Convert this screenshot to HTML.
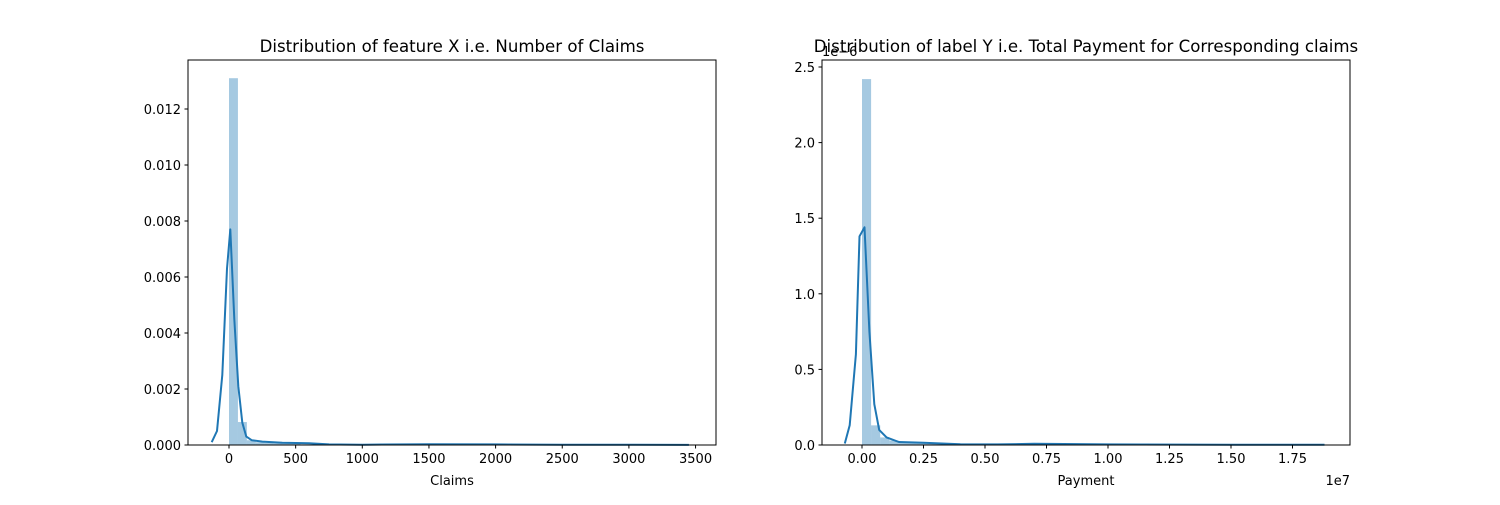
<!DOCTYPE html>
<html><head><meta charset="utf-8"><style>
body{margin:0;background:#fff;}
svg text{font-family:"DejaVu Sans","Liberation Sans",sans-serif;fill:#000;}
</style></head><body>
<svg id="fig" width="1500" height="500" viewBox="0 0 1500 500"></svg>
<script>
// ---- Left chart data (Claims) ----
const leftBinWidth = 67;
const leftBars = [0.0131,0.00082,0.00017,0.0001,0.00008,0.00006,0.00005,0.00004,0.00002,0.00001,0.00001,0.00001,0.00001,0.00001,0.00001,0.00001,0.00001,0.00001,0.00001,0.00001,0.00001,0.00002,0.00001,0.00001,0.00001,0.00001,0.00001,0.00001,0.00001,0.00001,0.00001,0.00002,0.00001,0.00001,0.00001,0.00001,0.00001,0.00001,0.00001,0.00001,0.00001,0.00001,0.00001,0.00001,0.00001,0.00001,0.00001,0.00001,0.00001,0.00001];
const leftKdeX = [-130,-90,-50,-15,10,40,70,100,130,170,250,400,600,750,1000,1500,2000,2500,3000,3450];
const leftKdeY = [0.0001,0.0005,0.0025,0.0063,0.0077,0.0045,0.0021,0.0008,0.0003,0.00017,0.00012,0.00008,0.00006,0.00002,0.00001,0.00003,0.00002,0.00001,0.000008,0.000005];
const leftXTicks = [0,500,1000,1500,2000,2500,3000,3500];
const leftYTicks = [0,0.002,0.004,0.006,0.008,0.010,0.012];
const leftYLabels = ["0.000","0.002","0.004","0.006","0.008","0.010","0.012"];
// ---- Right chart data (Payment, x in 1e7, y in 1e-6) ----
const rightBinWidth = 0.037;
const rightBars = [2.42,0.13,0.05,0.03,0.02,0.015,0.01,0.008,0.006,0.005,0.004,0.003,0.003,0.003,0.003,0.003,0.003,0.003,0.004,0.003,0.003,0.002,0.002,0.002,0.002,0.002,0.002,0.003,0.002,0.002,0.002,0.002,0.002,0.002,0.002,0.002,0.002,0.002,0.002,0.002,0.002,0.002,0.002,0.002,0.002,0.002,0.002,0.002,0.002,0.002];
const rightKdeX = [-0.07,-0.05,-0.025,-0.01,0.01,0.03,0.05,0.07,0.1,0.15,0.25,0.4,0.55,0.7,1.0,1.5,1.88];
const rightKdeY = [0.01,0.13,0.6,1.38,1.44,0.75,0.27,0.1,0.05,0.02,0.015,0.005,0.004,0.008,0.004,0.002,0.001];
const rightXTicks = [0,0.25,0.5,0.75,1.0,1.25,1.5,1.75];
const rightXLabels = ["0.00","0.25","0.50","0.75","1.00","1.25","1.50","1.75"];
const rightYTicks = [0,0.5,1.0,1.5,2.0,2.5];
const rightYLabels = ["0.0","0.5","1.0","1.5","2.0","2.5"];

const NS="http://www.w3.org/2000/svg";
const svg=document.getElementById('fig');
function el(tag,attrs,parent,txt){const e=document.createElementNS(NS,tag);for(const k in attrs)e.setAttribute(k,attrs[k]);if(txt!==undefined)e.textContent=txt;(parent||svg).appendChild(e);return e;}

function drawChart(cfg){
  const g=el('g',{});
  
  
  const {L,R,T,B}=cfg;
  const sx=v=>cfg.x0px+v*cfg.kx;
  const sy=v=>B-v*cfg.ky;
  cfg.bars.forEach((h,i)=>{
    const x=sx(i*cfg.bw);
    const r=el('rect',{x:x,y:sy(h),width:sx((i+1)*cfg.bw)-x,height:B-sy(h),fill:'#1f77b4','fill-opacity':0.4},g);
    
    
  });
  const pts=cfg.kx_.map((v,i)=>sx(v).toFixed(1)+','+sy(cfg.ky_[i]).toFixed(1)).join(' ');
  const p=el('polyline',{points:pts,fill:'none',stroke:'#1f77b4','stroke-width':2,'stroke-linejoin':'round'},g);
  
  
  const fr=el('rect',{x:L,y:T,width:R-L,height:B-T,fill:'none',stroke:'#000','stroke-width':1},g);
  
  
  cfg.xt.forEach((v,i)=>{
    const x=sx(v);
    el('line',{x1:x,x2:x,y1:B,y2:B+3.5,stroke:'#000','stroke-width':1},g);
    const t=el('text',{x:x,y:B+18,'text-anchor':'middle','font-size':13},g,cfg.xl[i]);
    
    
  });
  cfg.yt.forEach((v,i)=>{
    const y=sy(v);
    el('line',{x1:L-3.5,x2:L,y1:y,y2:y,stroke:'#000','stroke-width':1},g);
    const t=el('text',{x:L-7,y:y+5,'text-anchor':'end','font-size':13},g,cfg.yl[i]);
    
    
  });
  const ti=el('text',{x:(L+R)/2,y:T-8,'text-anchor':'middle','font-size':16.6},g,cfg.title);
  
  
  const xa=el('text',{x:(L+R)/2,y:485,'text-anchor':'middle','font-size':13},g,cfg.xlabel);
  
  
  return g;
}
drawChart({name:'claims-chart',L:188,R:716,T:60,B:445,x0px:229,kx:0.1333,ky:28000,bw:leftBinWidth,bars:leftBars,kx_:leftKdeX,ky_:leftKdeY,xt:leftXTicks,xl:leftXTicks.map(String),yt:leftYTicks,yl:leftYLabels,title:'Distribution of feature X i.e. Number of Claims',xlabel:'Claims'});
drawChart({name:'payment-chart',L:822,R:1350,T:60,B:445,x0px:862,kx:246,ky:151.2,bw:rightBinWidth,bars:rightBars,kx_:rightKdeX,ky_:rightKdeY,xt:rightXTicks,xl:rightXLabels,yt:rightYTicks,yl:rightYLabels,title:'Distribution of label Y i.e. Total Payment for Corresponding claims',xlabel:'Payment'});
const o1=el('text',{x:822,y:56,'font-size':13},svg,'1e\u22126');


const o2=el('text',{x:1350,y:485,'text-anchor':'end','font-size':13},svg,'1e7');


</script>
</body></html>
